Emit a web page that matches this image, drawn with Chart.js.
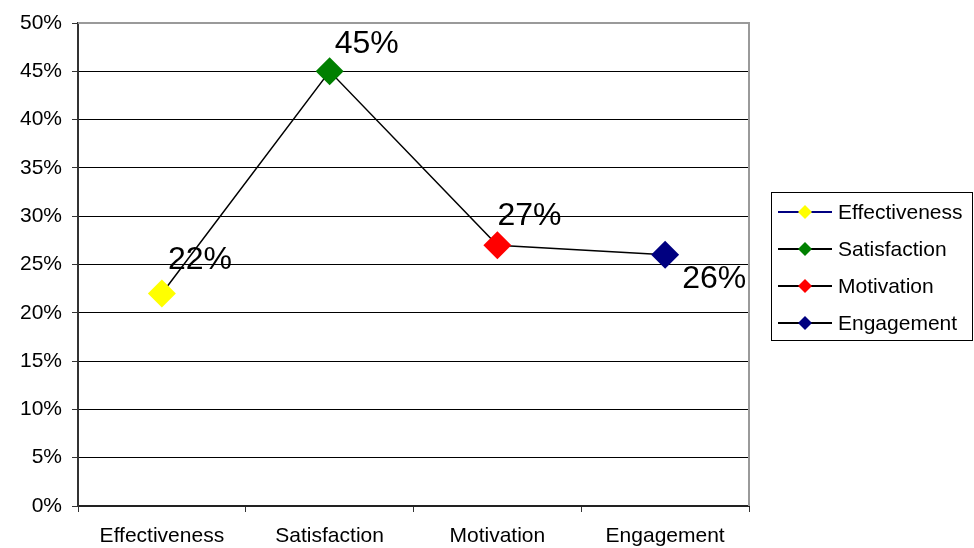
<!DOCTYPE html>
<html>
<head>
<meta charset="utf-8">
<title>Survey results</title>
<script src="https://cdn.jsdelivr.net/npm/chart.js@4.4.1/dist/chart.umd.min.js"></script>
<style>
  html, body { margin: 0; padding: 0; background: #fff; }
  #wrap { width: 974px; height: 548px; }
</style>
</head>
<body>
<div id="wrap"><canvas id="surveyChart" width="974" height="548"></canvas></div>
<script>
// Chart data
const categories = ['Effectiveness', 'Satisfaction', 'Motivation', 'Engagement'];
const scores = [22, 45, 27, 26];
const markerColors = ['#ffff00', '#008000', '#ff0000', '#000080'];
const legendLineColors = ['#000080', '#000000', '#000000', '#000000'];
const yTicks = [0, 5, 10, 15, 20, 25, 30, 35, 40, 45, 50];

// where each value label sits relative to its marker (dx, dy)
const labelOffsets = [[6, -33], [5, -27], [0, -29], [17, 24]];

const FONT = 'Arial, "Liberation Sans", sans-serif';

// Value labels next to the markers
const valueLabels = {
  id: 'valueLabels',
  afterDatasetsDraw(chart) {
    const ctx = chart.ctx;
    const meta = chart.getDatasetMeta(0);
    ctx.save();
    ctx.font = '32px ' + FONT;
    ctx.fillStyle = '#000';
    ctx.textAlign = 'left';
    ctx.textBaseline = 'middle';
    meta.data.forEach((pt, i) => {
      const [dx, dy] = labelOffsets[i];
      ctx.fillText(scores[i] + '%', pt.x + dx, pt.y + dy);
    });
    ctx.restore();
  }
};

// Gray frame on the top and right of the plot area
const plotFrame = {
  id: 'plotFrame',
  beforeDatasetsDraw(chart) {
    const { ctx, chartArea: a } = chart;
    ctx.save();
    ctx.strokeStyle = '#9a9a9a';
    ctx.lineWidth = 2;
    ctx.beginPath();
    ctx.moveTo(a.left, a.top);
    ctx.lineTo(a.right, a.top);
    ctx.lineTo(a.right, a.bottom);
    ctx.stroke();
    ctx.restore();
  }
};

// Legend box: one row per category, line with a diamond marker
const boxLegend = {
  id: 'boxLegend',
  afterDraw(chart) {
    const ctx = chart.ctx;
    const x = 771, y = 192, w = 202, h = 149;
    ctx.save();
    ctx.fillStyle = '#fff';
    ctx.fillRect(x, y, w, h);
    ctx.strokeStyle = '#000';
    ctx.lineWidth = 1;
    ctx.strokeRect(x + 0.5, y + 0.5, w - 1, h - 1);
    ctx.font = '21px ' + FONT;
    ctx.textAlign = 'left';
    ctx.textBaseline = 'middle';
    categories.forEach((name, i) => {
      const cy = 212 + i * 37;
      ctx.strokeStyle = legendLineColors[i];
      ctx.lineWidth = 2;
      ctx.beginPath();
      ctx.moveTo(778, cy);
      ctx.lineTo(832, cy);
      ctx.stroke();
      ctx.fillStyle = markerColors[i];
      ctx.beginPath();
      ctx.moveTo(805, cy - 7);
      ctx.lineTo(812, cy);
      ctx.lineTo(805, cy + 7);
      ctx.lineTo(798, cy);
      ctx.closePath();
      ctx.fill();
      ctx.fillStyle = '#000';
      ctx.fillText(name, 838, cy + 1);
    });
    ctx.restore();
  }
};

new Chart(document.getElementById('surveyChart'), {
  type: 'line',
  data: {
    labels: categories,
    datasets: [{
      label: 'Score',
      data: scores,
      borderColor: '#000',
      borderWidth: 1.5,
      tension: 0,
      pointStyle: 'rectRot',
      pointRadius: 14,
      pointHoverRadius: 14,
      pointBorderWidth: 0,
      pointBackgroundColor: markerColors,
      pointBorderColor: markerColors
    }]
  },
  options: {
    responsive: false,
    animation: false,
    events: [],
    layout: { padding: { top: 23, right: 225, bottom: 0, left: 0 } },
    plugins: {
      legend: { display: false },
      tooltip: { enabled: false }
    },
    scales: {
      x: {
        offset: true,
        afterFit: s => { s.height = 42; },
        grid: { offset: true, drawOnChartArea: false, drawTicks: true, tickLength: 6, color: '#333' },
        border: { color: '#222', width: 2 },
        ticks: { color: '#000', font: { family: FONT, size: 21 }, padding: 12, maxRotation: 0 }
      },
      y: {
        min: 0,
        max: 50,
        afterFit: s => { s.width = 78; },
        afterBuildTicks: s => { s.ticks = yTicks.map(v => ({ value: v })); },
        grid: {
          color: c => (c.tick && c.tick.value === 50 ? 'rgba(0,0,0,0)' : '#000'),
          tickColor: '#333',
          tickLength: 6,
          lineWidth: 1
        },
        border: { color: '#333', width: 2 },
        ticks: {
          color: '#000',
          font: { family: FONT, size: 21 },
          padding: 10,
          callback: v => v + '%'
        }
      }
    }
  },
  plugins: [plotFrame, valueLabels, boxLegend]
});
</script>
</body>
</html>
